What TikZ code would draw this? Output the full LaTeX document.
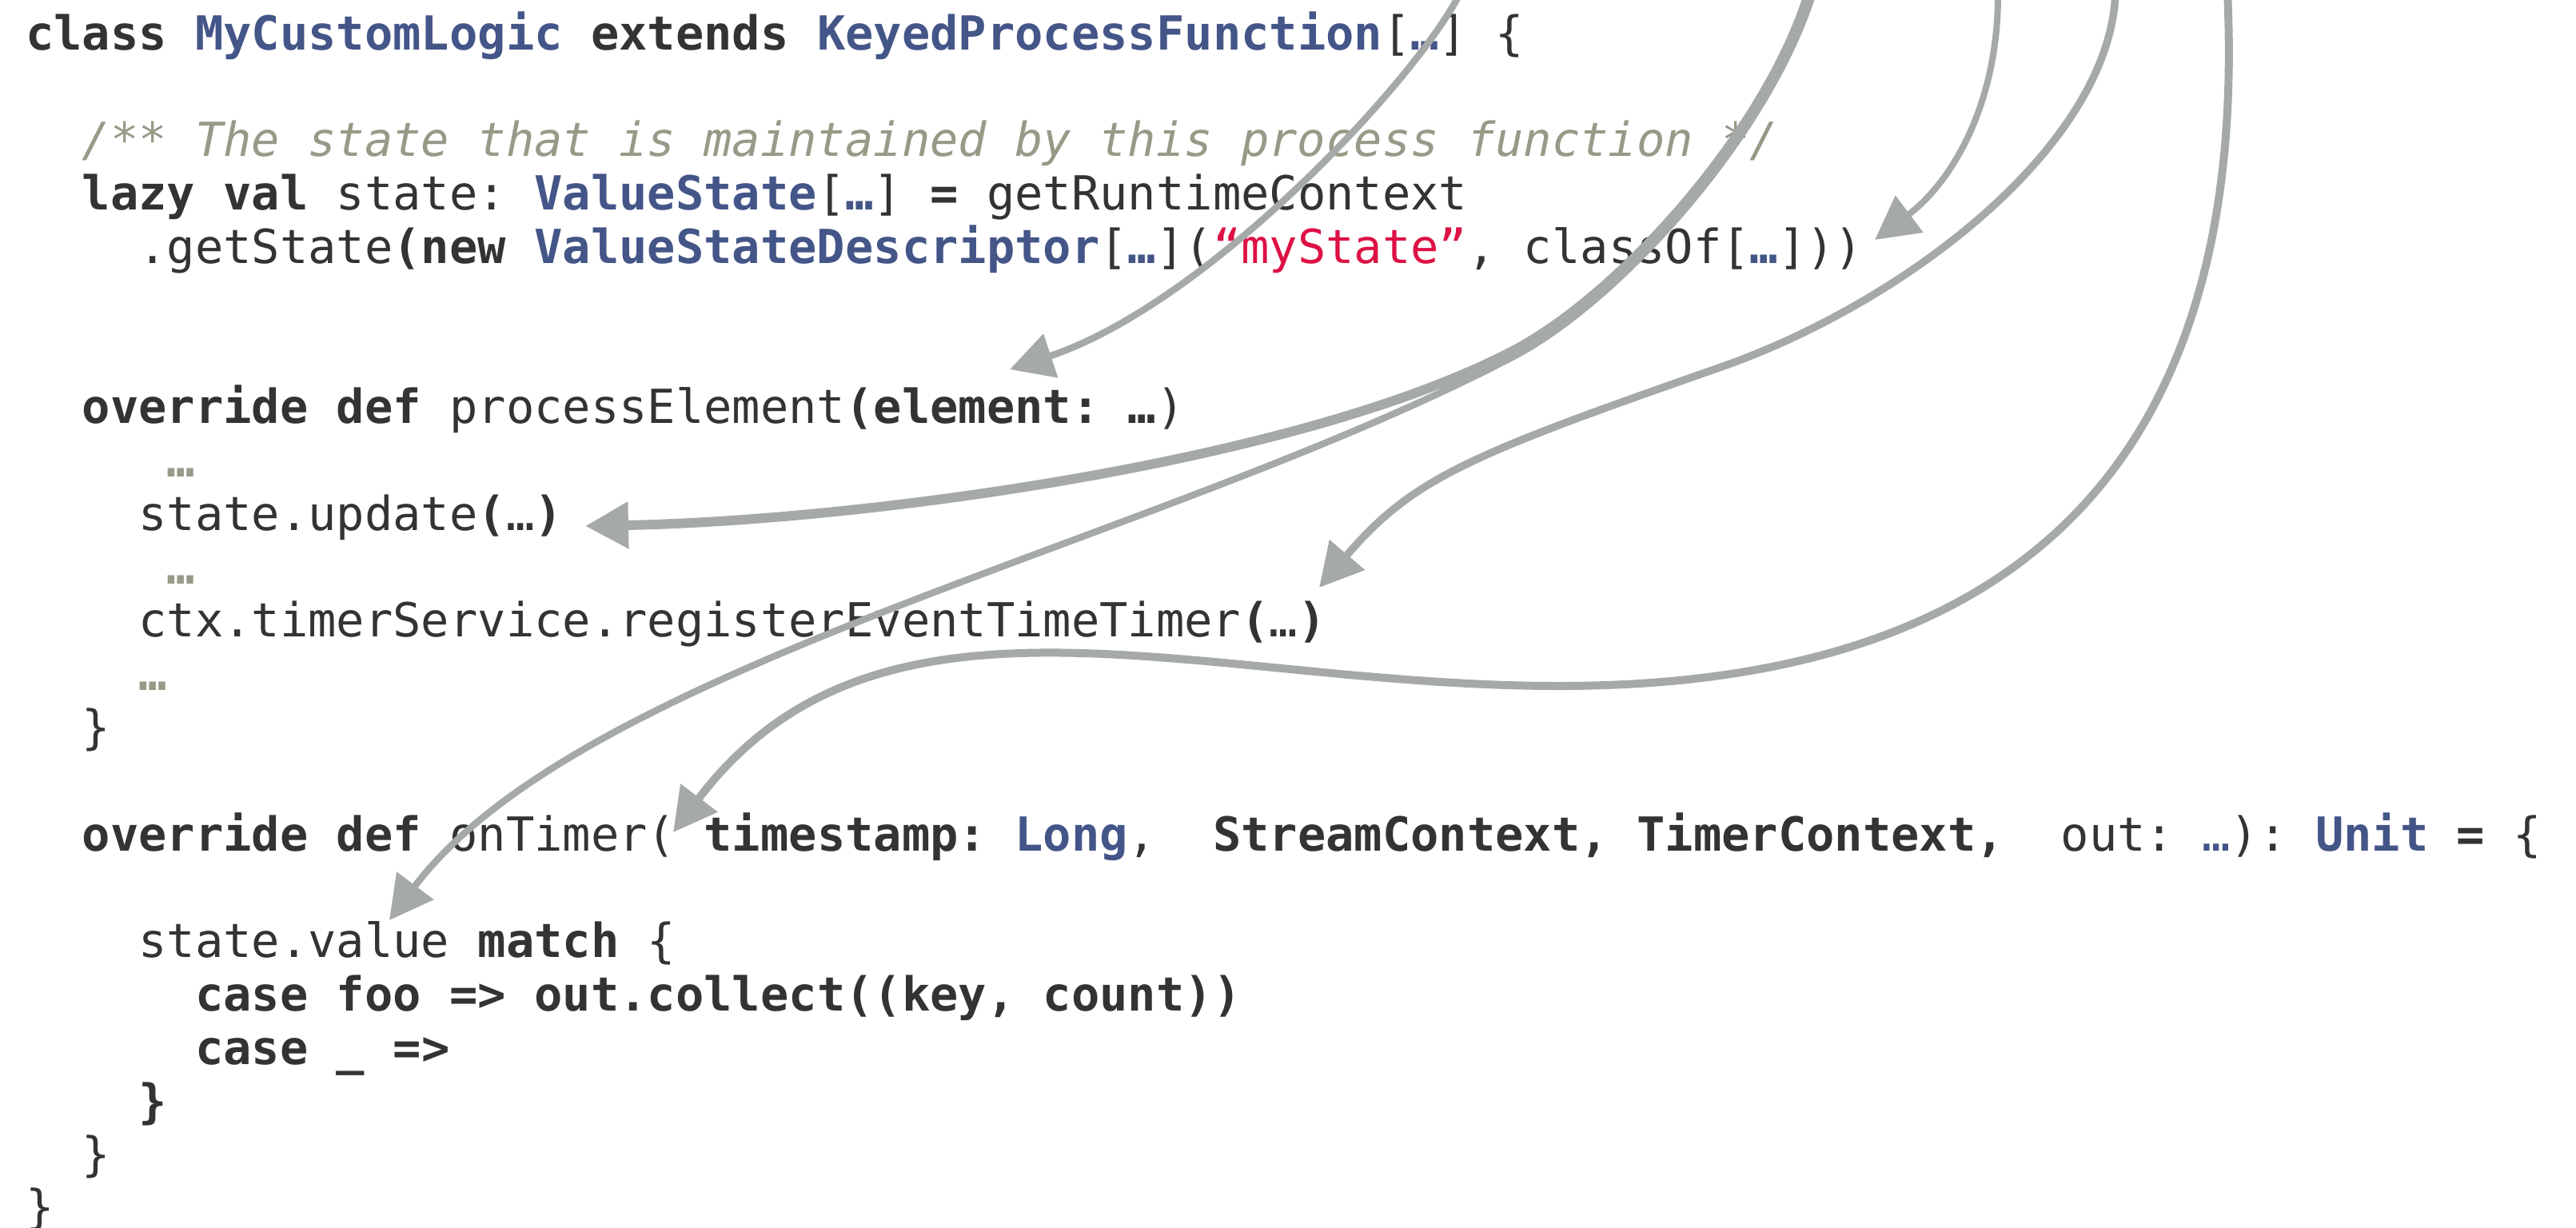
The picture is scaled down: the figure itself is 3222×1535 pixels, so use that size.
\documentclass[tikz,border=0pt]{standalone}
\usepackage{fontspec}
\setmonofont{DejaVu Sans Mono}
\usetikzlibrary{arrows.meta}

\definecolor{codedark}{HTML}{333333}
\definecolor{typeblue}{HTML}{445588}
\definecolor{commentgrey}{HTML}{999988}
\definecolor{stringred}{HTML}{DD1144}
\definecolor{wire}{RGB}{165,169,167}

% syntax highlighting helpers
\newcommand{\kwd}[1]{\textbf{#1}}
\newcommand{\typ}[1]{\textcolor{typeblue}{\textbf{#1}}}
\newcommand{\cmt}[1]{\textcolor{commentgrey}{\textit{#1}}}
\newcommand{\strlit}[1]{\textcolor{stringred}{#1}}
\newcommand{\elided}{\textcolor{commentgrey}{\textbf{…}}}

\tikzset{
  codeline/.style={anchor=base west, inner sep=0pt, outer sep=0pt, text=codedark,
    font=\ttfamily\fontsize{58.73}{66.8}\selectfont},
  flow/.style={draw=wire, line width=8.5pt, -{Triangle[length=54pt,width=56pt]}},
}

\begin{document}
\begin{tikzpicture}[x=1pt, y=-1pt]
\useasboundingbox (0,0) rectangle (3222,1535);

% ---- source code, one node per line (column pitch 35.36, line pitch 66.8) ----
\node[codeline] (r0)  at (32,62)       {\kwd{class} \typ{MyCustomLogic} \kwd{extends} \typ{KeyedProcessFunction}[\typ{…}] \{};
\node[codeline] (r2)  at (102.7,195.6) {\cmt{/** The state that is maintained by this process function */}};
\node[codeline] (r3)  at (102.7,262.4) {\kwd{lazy val} state: \typ{ValueState}[\typ{…}] \textbf{=} getRuntimeContext};
\node[codeline] (r4)  at (173.4,329.2) {.getState\textbf{(new} \typ{ValueStateDescriptor}[\typ{…}](\strlit{“myState”}, classOf[\typ{…}]))};
\node[codeline] (r7)  at (102.7,529.6) {\kwd{override def} processElement\textbf{(element: …})};
\node[codeline] (r8)  at (208.8,596.4) {\elided};
\node[codeline] (r9)  at (173.4,663.2) {state.update\textbf{(}…\textbf{)}};
\node[codeline] (r10) at (208.8,730)   {\elided};
\node[codeline] (r11) at (173.4,796.8) {ctx.timerService.registerEventTimeTimer\textbf{(}…\textbf{)}};
\node[codeline] (r12) at (173.4,863.6) {\elided};
\node[codeline] (r13) at (102.7,930.4) {\}};
\node[codeline] (r15) at (102.7,1064)  {\kwd{override def} onTimer( \kwd{timestamp:} \typ{Long},\ \ \kwd{StreamContext, TimerContext,}\ \ out: \textcolor{typeblue}{…}): \typ{Unit} \textbf{=} \{};
\node[codeline] (r17) at (173.4,1197.6) {state.value \kwd{match} \{};
\node[codeline] (r18) at (244.2,1264.4) {\kwd{case foo => out.collect((key, count))}};
\node[codeline] (r19) at (244.2,1331.2) {\kwd{case \_ =>}};
\node[codeline] (r20) at (173.4,1398)  {\textbf{\}}};
\node[codeline] (r21) at (102.7,1464.8) {\}};
\node[codeline] (r22) at (32,1530)     {\}};

% ---- arrow ends ----
\coordinate (srcA) at (1827,-10);  \coordinate (tipA) at (1263,462);
\coordinate (srcB) at (2263,-10);  \coordinate (forkB) at (1890,440); \coordinate (tipB) at (732,658);
\coordinate (srcF) at (2268,-10);  \coordinate (forkF) at (1893,446); \coordinate (tipF) at (487,1151);
\coordinate (srcC) at (2499,-10);  \coordinate (tipC) at (2345,300);
\coordinate (srcD) at (2646,-10);  \coordinate (bendD) at (2150,460); \coordinate (tipD) at (1650,735);
\coordinate (srcE) at (2786,-10);  \coordinate (bendE) at (1950,858); \coordinate (tipE) at (842,1041);

% ---- arrows ----
\draw[flow] (srcA) .. controls (1772,100) and (1510,380) .. (tipA);
\draw[flow] (srcF) .. controls (2214,166) and (2028,375) .. (forkF)
                   .. controls (1450,678) and (727,831) .. (tipF);
\draw[flow, line width=12pt] (srcB) .. controls (2209,166) and (2024,371) .. (forkB)
                   .. controls (1623,578) and (1082,651) .. (tipB);
\draw[flow, line width=8pt] (srcC) .. controls (2500,130) and (2441,228) .. (tipC);
\draw[flow, line width=9.5pt] (srcD) .. controls (2640,180) and (2386,378) .. (bendD)
                   .. controls (1838,569) and (1767,598) .. (tipD);
\draw[flow, line width=10pt] (srcE) .. controls (2810,500) and (2600,858) .. (bendE)
                   .. controls (1500,858) and (1100,700) .. (tipE);
\end{tikzpicture}
\end{document}
